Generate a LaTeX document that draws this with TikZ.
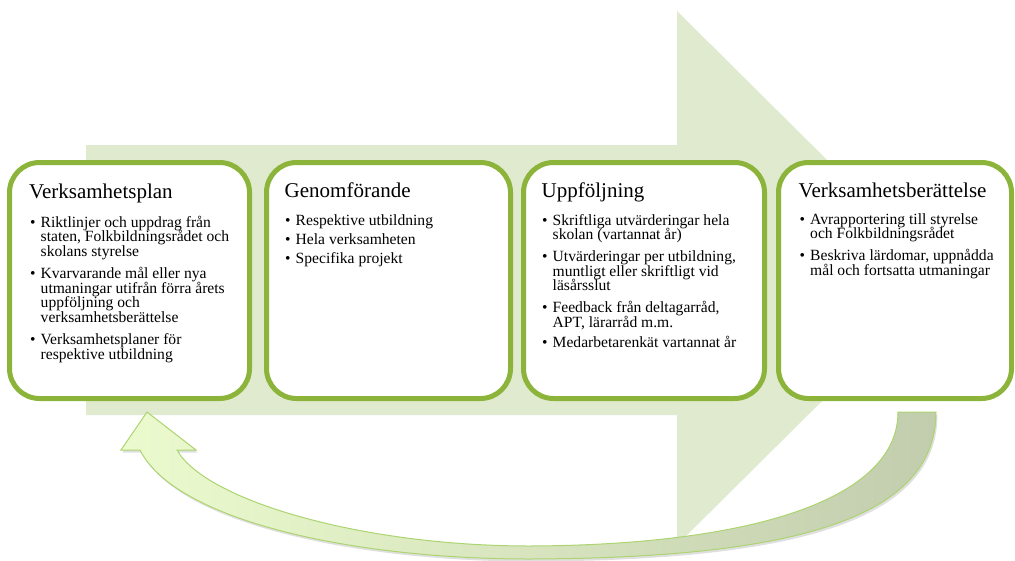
\documentclass[tikz,border=0pt]{standalone}
\usepackage{fontspec}
\setmainfont{Liberation Serif}
\usetikzlibrary{shadows}
\definecolor{boxgreen}{RGB}{141,180,58}
\definecolor{arrowbg}{RGB}{223,234,207}
\definecolor{cArrowL}{RGB}{236,251,206}
\definecolor{cArrowR}{RGB}{194,205,174}
\definecolor{cArrowEdge}{RGB}{172,212,112}
\newcommand{\bu}{\makebox[10.5pt][l]{\textbullet}}
\newcommand{\ind}{\hspace*{10.5pt}}
\newcommand{\boxlist}[2][14.5pt]{\parbox[t]{225pt}{\fontsize{15.6}{#1}\selectfont\lineskiplimit=-30pt\relax\raggedright #2}}
\tikzset{
  stagebox/.style={draw=boxgreen, line width=5pt, fill=white, rounded corners=30pt,
    minimum height=236pt, inner sep=0pt},
  titletext/.style={anchor=base west, inner sep=0pt, font=\fontsize{21}{25}\selectfont},
  listtext/.style={anchor=base west, inner sep=0pt},
}
\begin{document}
\begin{tikzpicture}[x=1pt,y=-1pt]
\useasboundingbox (0,0) rectangle (1015,560);
% big background arrow
\fill[arrowbg] (86,145) -- (677,145) -- (677,11) -- (946,278) -- (677,545)
  -- (677,415) -- (86,415) -- cycle;
% stage boxes
\node[stagebox, minimum width=240pt] (b1) at (129.5,280.5) {};
\node[stagebox, minimum width=244pt] (b2) at (388.5,280.5) {};
\node[stagebox, minimum width=241pt] (b3) at (644,280.5) {};
\node[stagebox, minimum width=233pt] (b4) at (895,280.5) {};
% titles
\node[titletext] (t1) at (29,198) {Verksamhetsplan};
\node[titletext] (t2) at (284.5,197) {Genomförande};
\node[titletext] (t3) at (541.5,197) {Uppföljning};
\node[titletext] (t4) at (798.5,197) {Verksamhetsberättelse};
% bullet lists
\node[listtext] (l1) at (30,227) {\boxlist[14.75pt]{%
\bu Riktlinjer och uppdrag från\\
\ind staten, Folkbildningsrådet och\\
\ind skolans styrelse\\[7pt]
\bu Kvarvarande mål eller nya\\
\ind utmaningar utifrån förra årets\\
\ind uppföljning och\\
\ind verksamhetsberättelse\\[7pt]
\bu Verksamhetsplaner för\\
\ind respektive utbildning}};
\node[listtext] (l2) at (285,225) {\boxlist{%
\bu Respektive utbildning\\[4.5pt]
\bu Hela verksamheten\\[4.5pt]
\bu Specifika projekt}};
\node[listtext] (l3) at (542,225) {\boxlist{%
\bu Skriftliga utvärderingar hela\\
\ind skolan (vartannat år)\\[7.5pt]
\bu Utvärderingar per utbildning,\\
\ind muntligt eller skriftligt vid\\
\ind läsårsslut\\[7.5pt]
\bu Feedback från deltagarråd,\\
\ind APT, lärarråd m.m.\\[5.5pt]
\bu Medarbetarenkät vartannat år}};
\node[listtext] (l4) at (799.5,224) {\boxlist{%
\bu Avrapportering till styrelse\\
\ind och Folkbildningsrådet\\[7.5pt]
\bu Beskriva lärdomar, uppnådda\\
\ind mål och fortsatta utmaningar}};
% curved return arrow
\path[draw=cArrowEdge, line width=1pt, left color=cArrowL, right color=cArrowR,
      drop shadow={opacity=0.25, shadow xshift=1.5pt, shadow yshift=-2.5pt}]
  (898,412) -- (936,412)
  .. controls (936,520) and (790,558) .. (530,559)
  .. controls (350,559) and (175,520) .. (140,450)
  -- (121,450) -- (147,412) -- (196,450) -- (177,450)
  .. controls (205,500) and (360,546) .. (530,546)
  .. controls (750,545) and (898,500) .. (898,412) -- cycle;
\end{tikzpicture}
\end{document}
